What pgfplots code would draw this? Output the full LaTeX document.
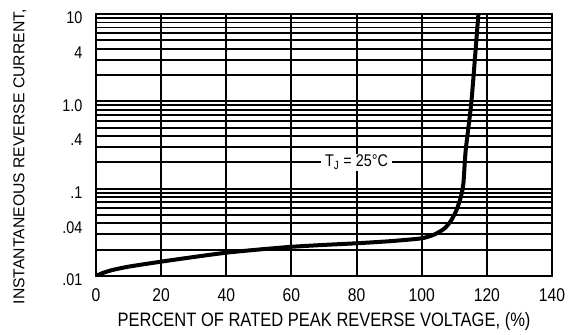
\documentclass[border=0pt]{standalone}
\usepackage{fontspec}
\setmainfont{Liberation Sans}
\newfontfamily\narrowfont{Liberation Sans}[FakeStretch=0.85]
\usepackage{pgfplots}
\pgfplotsset{compat=1.18}
\begin{document}
\begin{tikzpicture}
\path[use as bounding box] (0,0) rectangle (568bp,335bp);
\begin{axis}[
  at={(96bp,59bp)}, anchor=south west,
  width=456bp, height=262bp, scale only axis,
  xmin=0, xmax=140, ymode=log, ymin=0.01, ymax=10,
  xtick={0,20,...,140},
  ytick={0.01,0.04,0.1,0.4,1,4,10},
  yticklabels={.01,.04,.1,.4,1.0,4,10},
  minor ytick={0.02,0.03,0.05,0.06,0.07,0.08,0.09,0.2,0.3,0.5,0.6,0.7,0.8,0.9,2,3,5,6,7,8,9},
  grid=both,
  major grid style={black, line width=1.9bp},
  minor grid style={black, line width=1.9bp},
  major tick length=0pt, minor tick length=0pt,
  axis line style={black, line width=2.2bp},
  /pgf/number format/assume math mode=true,
  xticklabel style={font=\narrowfont\fontsize{18.5}{20}\selectfont, yshift=-9bp},
  yticklabel style={font=\narrowfont\fontsize{17}{19}\selectfont, xshift=-10bp, yshift=-4bp},
  xlabel={PERCENT OF RATED PEAK REVERSE VOLTAGE, (\%)},
  xlabel style={font=\narrowfont\fontsize{19.5}{21}\selectfont, at={(axis description cs:0.5,-0.1746)}, anchor=center},
  ylabel={INSTANTANEOUS REVERSE CURRENT,},
  ylabel style={font=\fontsize{15.8}{17}\selectfont, at={(axis description cs:-0.1667,0.455)}, anchor=center},
]
\addplot[black, line width=4bp, smooth, tension=0.35] coordinates {
(0,0.0100) (2,0.0108) (5,0.0117) (10,0.0128) (20,0.0146) (30,0.0165)
(40,0.0185) (50,0.0201) (60,0.0216) (70,0.0227) (80,0.0237) (90,0.0250)
(100,0.0270) (104,0.0300) (107,0.0350) (109,0.0430) (110.7,0.0570)
(112,0.0800) (112.8,0.115) (113.5,0.275) (115.3,1.03) (117.4,10)
};
\node[fill=white, inner xsep=4bp, inner ysep=1bp, font=\narrowfont\fontsize{17}{19}\selectfont] at (axis cs:80,0.2) {T\textsubscript{J} = 25°C};
\end{axis}
\end{tikzpicture}
\end{document}
